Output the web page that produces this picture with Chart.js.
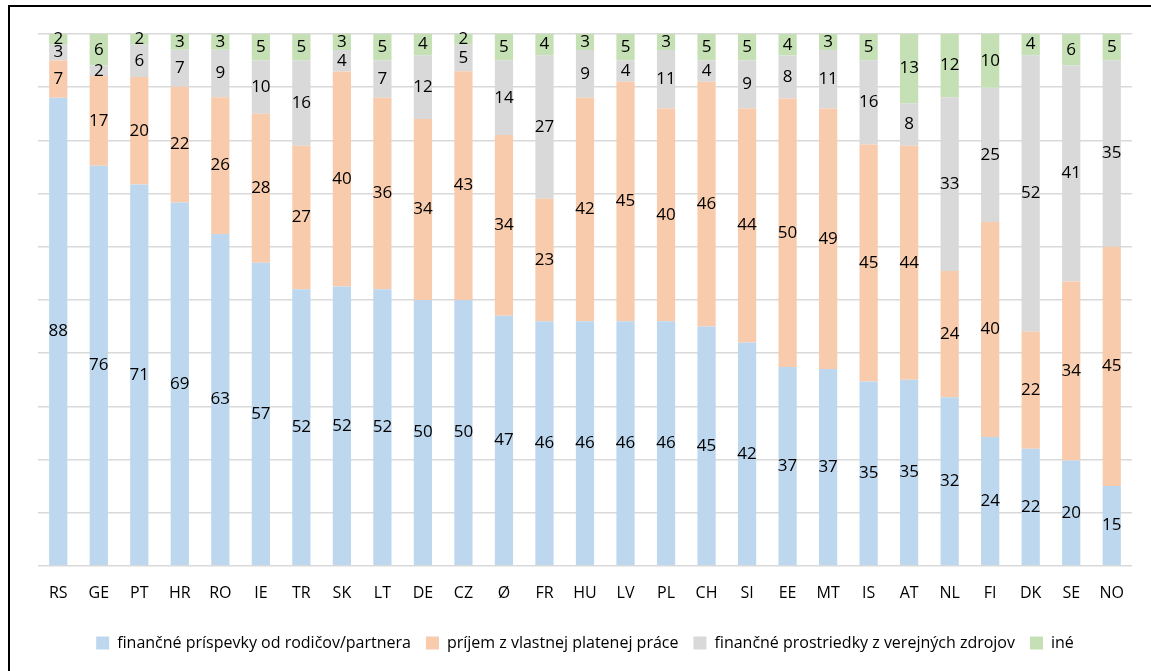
<!DOCTYPE html>
<html>
<head>
<meta charset="utf-8">
<script src="https://cdn.jsdelivr.net/npm/chart.js@4.4.1/dist/chart.umd.min.js"></script>
<style>
    html, body { margin: 0; padding: 0; background: #fff; }
    #wrap { width: 1151px; height: 671px; position: relative; }
</style>
</head>
<body>
<div id="wrap"><canvas id="graf"></canvas></div>
<script>
const krajiny = ['RS', 'GE', 'PT', 'HR', 'RO', 'IE', 'TR', 'SK', 'LT', 'DE', 'CZ', 'Ø', 'FR', 'HU',
    'LV', 'PL', 'CH', 'SI', 'EE', 'MT', 'IS', 'AT', 'NL', 'FI', 'DK', 'SE', 'NO'];

const rodicia  = [88, 76, 71, 69, 63, 57, 52, 52, 52, 50, 50, 47, 46, 46, 46, 46, 45, 42, 37, 37, 35, 35, 32, 24, 22, 20, 15];
const praca    = [7, 17, 20, 22, 26, 28, 27, 40, 36, 34, 43, 34, 23, 42, 45, 40, 46, 44, 50, 49, 45, 44, 24, 40, 22, 34, 45];
const verejne  = [3, 2, 6, 7, 9, 10, 16, 4, 7, 12, 5, 14, 27, 9, 4, 11, 4, 9, 8, 11, 16, 8, 33, 25, 52, 41, 35];
const ine      = [2, 6, 2, 3, 3, 5, 5, 3, 5, 4, 2, 5, 4, 3, 5, 3, 5, 5, 4, 3, 5, 13, 12, 10, 4, 6, 5];

const nazvy = ['finančné príspevky od rodičov/partnera', 'príjem z vlastnej platenej práce',
    'finančné prostriedky z verejných zdrojov', 'iné'];
const farby = ['#bdd7ee', '#f8cbad', '#d9d9d9', '#c5e0b4'];

// 100 % stlpce - hodnoty sa prepocitaju na podiel zo suctu
const serie = [rodicia, praca, verejne, ine];
const sucty = krajiny.map((k, i) => serie.reduce((s, a) => s + a[i], 0));

const datasets = serie.map((arr, j) => ({
    label: nazvy[j],
    data: arr.map((v, i) => v / sucty[i] * 100),
    raw: arr,
    backgroundColor: farby[j],
    borderWidth: 0,
    barPercentage: 0.45,
    categoryPercentage: 1
}));

const FONT = '"Open Sans", "DejaVu Sans", sans-serif';

const popisky = {
    id: 'popisky',
    afterDatasetsDraw(chart) {
        const ctx = chart.ctx;
        ctx.save();
        ctx.font = '17px ' + FONT;
        ctx.fillStyle = '#000';
        ctx.textAlign = 'center';
        ctx.textBaseline = 'middle';
        chart.data.datasets.forEach((ds, j) => {
            chart.getDatasetMeta(j).data.forEach((bar, i) => {
                let y = (bar.y + bar.base) / 2;
                ctx.fillText(ds.raw[i], bar.x, y);
            });
        });
        ctx.restore();
    }
};

const ramik = {
    id: 'ramik',
    afterDraw(chart) {
        const ctx = chart.ctx;
        ctx.save();
        ctx.strokeStyle = '#000';
        ctx.lineWidth = 2;
        ctx.beginPath();
        ctx.moveTo(9, 700);
        ctx.lineTo(9, 6);
        ctx.lineTo(1160, 6);
        ctx.stroke();
        ctx.restore();
    }
};

const config = {
    type: 'bar',
    data: { labels: krajiny, datasets: datasets },
    options: {
        responsive: true,
        maintainAspectRatio: false,
        animation: false,
        layout: { padding: { top: 34, left: 38, right: 19, bottom: 10 } },
        plugins: {
            legend: {
                position: 'bottom',
                labels: {
                    boxWidth: 13,
                    boxHeight: 13,
                    padding: 15,
                    color: '#000',
                    font: { size: 16, family: FONT }
                }
            },
            tooltip: { enabled: false }
        },
        scales: {
            x: {
                stacked: true,
                grid: { display: false },
                border: { display: false },
                ticks: { color: '#000', font: { size: 16, family: FONT }, padding: 10 },
                afterFit(scale) { scale.height += 7; }
            },
            y: {
                stacked: true,
                min: 0,
                max: 100,
                ticks: { display: false, stepSize: 10 },
                border: { display: false },
                grid: { color: '#d9d9d9', lineWidth: 1.5, drawTicks: false }
            }
        }
    },
    plugins: [popisky, ramik]
};

let ctx = document.getElementById('graf').getContext('2d');
new Chart(ctx, config);
</script>
</body>
</html>
